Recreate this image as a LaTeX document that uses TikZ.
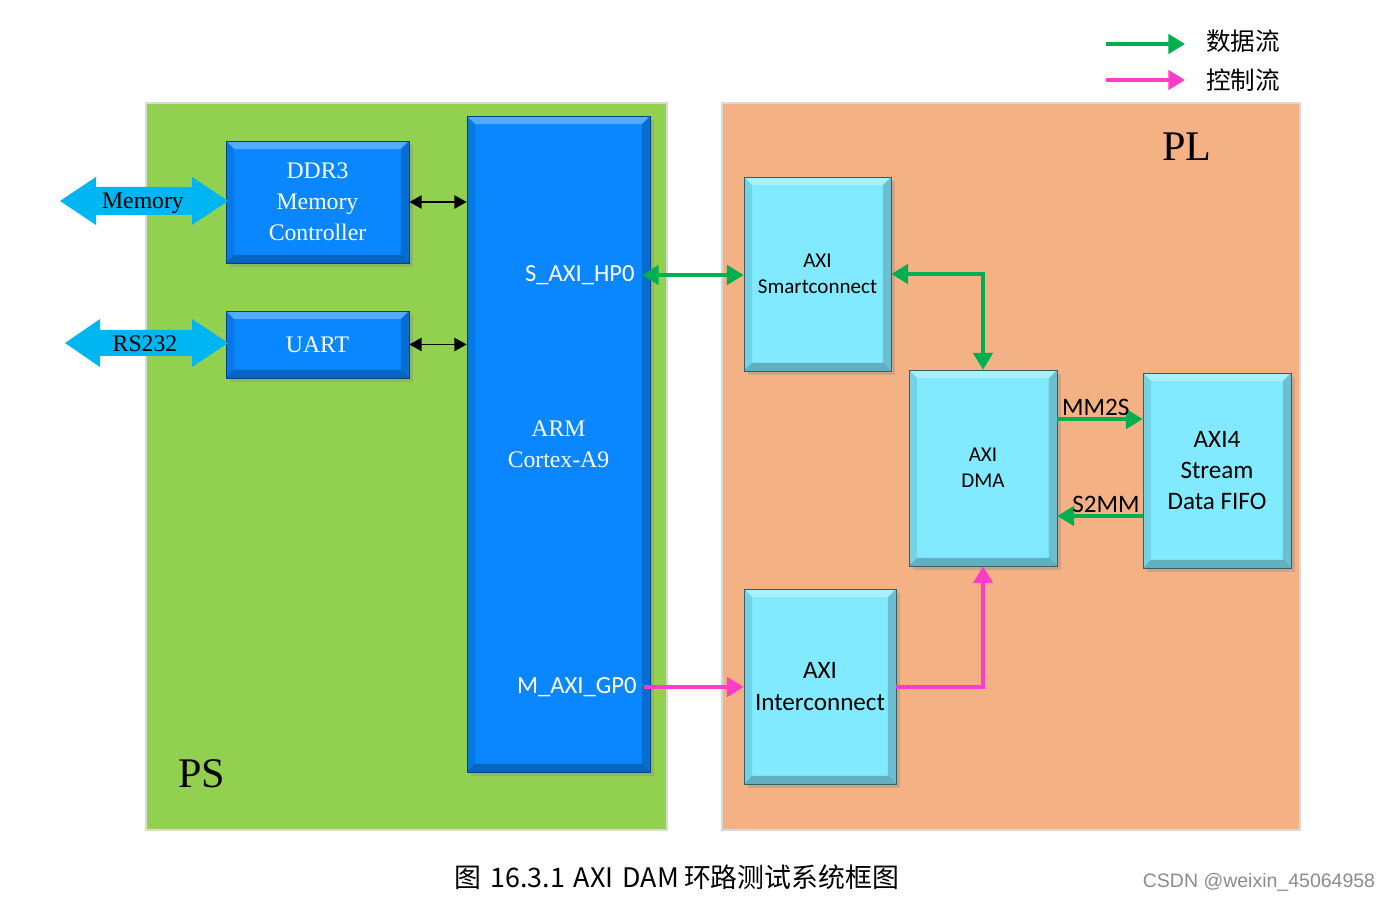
\documentclass[tikz,border=0pt]{standalone}
\usepackage{fontspec}
\usepackage{xcolor}
\usepackage{tikz}
\usetikzlibrary{arrows.meta,shadows}
\setmainfont{Liberation Serif}
\newfontfamily\calibri{Carlito}
\newfontfamily\cjk{Noto Sans CJK SC}
\newfontfamily\wmfont{Liberation Sans}
\definecolor{psgreen}{HTML}{92D050}
\definecolor{plorange}{HTML}{F4B183}
\definecolor{armblue}{HTML}{0A86FF}
\definecolor{plcyan}{HTML}{82EAFF}
\definecolor{capblue}{HTML}{00B6F2}
\definecolor{dgreen}{HTML}{00B050}
\definecolor{cpink}{HTML}{FF3CC8}

\begin{document}
\begin{tikzpicture}[x=0.02cm, y=-0.02cm, node distance=2.85cm]
    \tikzstyle{region} = [rectangle, inner sep=0pt, draw=black!15, line width=0.8pt]
    \tikzstyle{bevel} = [path picture={
        \coordinate (bnw) at (path picture bounding box.north west);
        \coordinate (bne) at (path picture bounding box.north east);
        \coordinate (bsw) at (path picture bounding box.south west);
        \coordinate (bse) at (path picture bounding box.south east);
        \fill[white, opacity=0.3] (bnw) -- (bne) -- ([shift={(-8,8)}]bne) -- ([shift={(8,8)}]bnw) -- cycle;
        \fill[black, opacity=0.25] (bsw) -- (bse) -- ([shift={(-8,-8)}]bse) -- ([shift={(8,-8)}]bsw) -- cycle;
        \fill[black, opacity=0.1] (bnw) -- ([shift={(8,8)}]bnw) -- ([shift={(8,-8)}]bsw) -- (bsw) -- cycle;
        \fill[black, opacity=0.18] (bne) -- ([shift={(-8,8)}]bne) -- ([shift={(-8,-8)}]bse) -- (bse) -- cycle;
    }]
    \tikzstyle{psblock} = [rectangle, draw=armblue!50!black, fill=armblue, text=white, align=center, minimum width=3.66cm, font=\fontsize{13.5}{17.6}\selectfont, bevel, drop shadow={opacity=0.3}]
    \tikzstyle{plblock} = [rectangle, draw=plcyan!40!black, fill=plcyan, align=center, minimum width=2.96cm, minimum height=3.9cm, font=\calibri\fontsize{12}{14.7}\selectfont, bevel, drop shadow={opacity=0.3}]
    \tikzstyle{portlbl} = [text=white, inner sep=4pt, font=\calibri\fontsize{14}{14}\selectfont]
    \tikzstyle{dataflow} = [draw=dgreen, line width=2pt, >={Triangle[length=9.5pt,width=11pt]}, ->]
    \tikzstyle{ctrlflow} = [draw=cpink, line width=2pt, >={Triangle[length=9.5pt,width=11pt]}, ->]
    \tikzstyle{bus} = [line width=1.1pt, >={Triangle[length=7pt,width=7.5pt]}, <->]
    \tikzstyle{legend} = [anchor=west, inner sep=0pt, font=\cjk\fontsize{14}{14}\selectfont]
    \useasboundingbox[fill=white] (0,0) rectangle (1390,901);

    % PS and PL regions
    \node [region, fill=psgreen, minimum width=10.42cm, minimum height=14.54cm] (ps) at (406.5,466.5) {};
    \node [region, fill=plorange, minimum width=11.56cm, minimum height=14.54cm] (pl) at (1011,466.5) {};
    \node [font=\fontsize{24}{24}\selectfont] (pslbl) at (202,774) {PS};
    \node [font=\fontsize{24}{24}\selectfont] (pllbl) at (1187,147) {PL};

    % PS side
    \node [psblock, minimum height=2.44cm] (ddr) at (317.5,202) {DDR3\\Memory\\Controller};
    \node [psblock, minimum height=1.34cm, below of=ddr] (uart) {UART};
    \node [psblock, minimum height=13.12cm] (arm) at (558.5,444) {ARM\\Cortex-A9};
    \node [portlbl, anchor=east] (hp0) at (642,275) {S\_AXI\_HP0};
    \node [portlbl, anchor=east] (gp0) at (644,687) {M\_AXI\_GP0};

    % outside ports
    \fill [capblue] (60,201) -- (96,177) -- (96,187) -- (192,187) -- (192,177) -- (228,201) -- (192,225) -- (192,215) -- (96,215) -- (96,225) -- cycle;
    \node [font=\fontsize{13.5}{13.5}\selectfont] (mem) at (143,203) {Memory};
    \fill [capblue] (65,343) -- (100,319) -- (100,330) -- (192,330) -- (192,319) -- (228,343) -- (192,367) -- (192,356) -- (100,356) -- (100,367) -- cycle;
    \node [font=\fontsize{13.5}{13.5}\selectfont] (rs) at (145,344) {RS232};

    % PL side
    \node [plblock, minimum width=2.94cm, minimum height=3.88cm] (smart) at (817.5,274) {AXI\\Smartconnect};
    \node [plblock, minimum height=3.92cm] (dma) at (983,468) {AXI\\DMA};
    \node [plblock, font=\calibri\fontsize{14.3}{17.6}\selectfont] (fifo) at (1217,470.5) {AXI4\\Stream\\Data FIFO};
    \node [plblock, minimum width=3.04cm, font=\calibri\fontsize{14.3}{18}\selectfont] (inter) at (820,686.5) {AXI\\Interconnect};

    \draw [bus] (ddr.east) -- (ddr.east -| arm.west);
    \draw [bus] (uart.east) -- (uart.east -| arm.west);
    \draw [dataflow, <->] (hp0.east) -- (hp0.east -| smart.west);
    \draw [dataflow, <->] (smart.east) -| (dma.north);
    \draw [dataflow] ([yshift=0.98cm]dma.east) -- ([yshift=0.98cm]dma.east -| fifo.west)
        node [pos=0.45, above, inner sep=1pt, font=\calibri\fontsize{14.3}{14.3}\selectfont] (mm2s) {MM2S};
    \draw [dataflow] ([yshift=-0.96cm]dma.east -| fifo.west) -- ([yshift=-0.96cm]dma.east)
        node [pos=0.43, above, inner sep=1pt, font=\calibri\fontsize{14.3}{14.3}\selectfont] (s2mm) {S2MM};
    \draw [ctrlflow] (gp0.east) -- (gp0.east -| inter.west);
    \draw [ctrlflow] (inter.east |- gp0.east) -| (dma.south);

    % legend
    \coordinate (lgds) at (1106,44);
    \coordinate (lgde) at (1185,44);
    \coordinate (lgcs) at (1106,80);
    \coordinate (lgce) at (1185,80);
    \draw [dataflow] (lgds) -- (lgde);
    \draw [ctrlflow] (lgcs) -- (lgce);
    \node [legend] (lgdata) at (1206,41) {数据流};
    \node [legend] (lgctrl) at (1206,80) {控制流};

    \node [font=\cjk\fontsize{15.3}{15.3}\selectfont] (cap) at (677,877) {图\hspace{5pt}16.3.1\hspace{5pt}AXI\hspace{5pt}DAM\hspace{3pt}环路测试系统框图};
    \node [font=\wmfont\fontsize{11.1}{11.1}\selectfont, text=black!45] (wm) at (1259,882) {CSDN @weixin\_45064958};
\end{tikzpicture}
\end{document}
